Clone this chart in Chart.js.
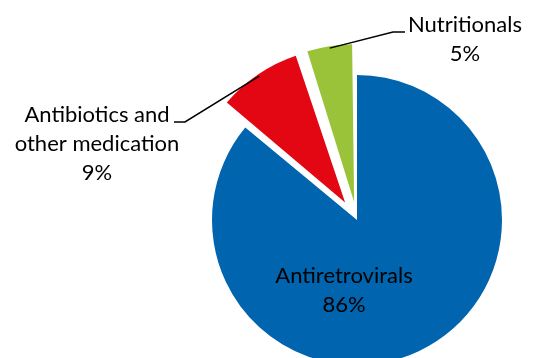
<!DOCTYPE html>
<html>
<head>
<meta charset="utf-8">
<script src="https://cdn.jsdelivr.net/npm/chart.js@4"></script>
<style>
  html, body { margin: 0; padding: 0; background: #fff; }
  #wrap { width: 537px; height: 358px; position: relative; }
</style>
</head>
<body>
<div id="wrap"><canvas id="pieChart"></canvas></div>
<script>
// data
const categories = ['Antiretrovirals', 'Antibiotics and other medication', 'Nutritionals'];
const shares = [86, 9, 5];
const sliceColours = ['#0064AE', '#E30613', '#9BC33A'];
const explodePx = [0, 31, 31]; // how far each slice sits out, in px

// label layout: text lines, anchor, optional leader elbow + end
const labelLines = [
  ['Antiretrovirals', '86%'],
  ['Antibiotics and', 'other medication', '9%'],
  ['Nutritionals', '5%']
];
const labelPos = [
  { x: 344, y: 276 },
  { x: 97, y: 115 },
  { x: 465, y: 25 }
];
const leaders = [
  null,
  { elbow: [185, 122], end: [174, 122] },
  { elbow: [393, 32], end: [405, 32] }
];

const FONT = '22px Lato, "Open Sans", sans-serif';
const LINE_H = 29;

// chart.js arc draws offset/4 * (2 - sin(circ)), so invert that
const total = shares.reduce((s, v) => s + v, 0);
const arcOffset = shares.map((v, i) => {
  const circ = v / total * Math.PI * 2;
  return explodePx[i] / (0.25 * (2 - Math.sin(Math.min(Math.PI, circ))));
});

const labelPlugin = {
  id: 'sliceLabels',
  afterDatasetsDraw(chart) {
    const ctx = chart.ctx;
    const arcs = chart.getDatasetMeta(0).data;
    ctx.save();
    ctx.strokeStyle = '#000';
    ctx.lineWidth = 1.5;
    arcs.forEach((arc, i) => {
      const ld = leaders[i];
      if (!ld) return;
      const p = arc.getProps(['x', 'y', 'startAngle', 'endAngle', 'outerRadius']);
      const mid = (p.startAngle + p.endAngle) / 2;
      const r = explodePx[i] + p.outerRadius - 2;
      ctx.beginPath();
      ctx.moveTo(p.x + Math.cos(mid) * r, p.y + Math.sin(mid) * r);
      ctx.lineTo(ld.elbow[0], ld.elbow[1]);
      ctx.lineTo(ld.end[0], ld.end[1]);
      ctx.stroke();
    });
    ctx.fillStyle = '#000';
    ctx.font = FONT;
    ctx.textAlign = 'center';
    ctx.textBaseline = 'middle';
    labelLines.forEach((lines, i) => {
      lines.forEach((t, j) => ctx.fillText(t, labelPos[i].x, labelPos[i].y + j * LINE_H));
    });
    ctx.restore();
  }
};

new Chart(byId('pieChart'), {
  type: 'pie',
  data: {
    labels: categories,
    datasets: [{
      data: shares,
      backgroundColor: sliceColours,
      borderWidth: 0,
      offset: arcOffset
    }]
  },
  options: {
    responsive: true, maintainAspectRatio: false,
    animation: false,
    radius: 145,
    layout: { padding: { left: 177, right: 0, top: 82, bottom: 0 } },
    plugins: { legend: { display: false }, tooltip: { enabled: false } }
  },
  plugins: [labelPlugin]
});

function byId(id) { return document.getElementById(id); }
</script>
</body>
</html>
